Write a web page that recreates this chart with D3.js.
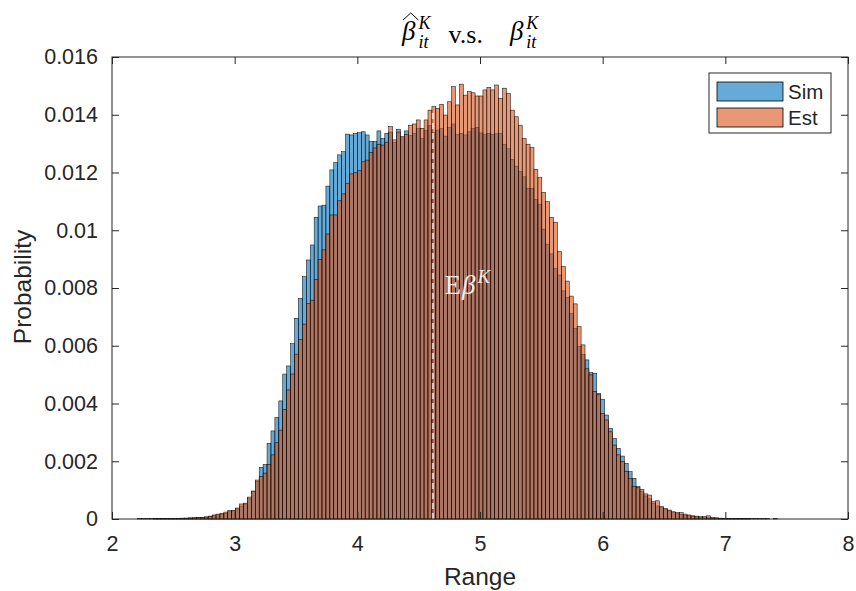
<!DOCTYPE html>
<html>
<head>
<meta charset="utf-8">
<script src="https://cdn.jsdelivr.net/npm/d3@7"></script>
<style>
  body { margin: 0; background: #fff; }
  svg { display: block; }
</style>
</head>
<body>
<div id="chart"></div>
<script>
// histogram bins (probability per bin)
const binStart = 2.208
const binWidth = 0.032

const simProb = [
  0.00001, 0.00001, 0, 0.00001, 0.00001, 0.00001, 0.00002, 0.00001, 0.00002, 0.00002,
  0.00002, 0.00003, 0.00003, 0.00004, 0.00004, 0.00005, 0.00006, 0.00007, 0.00009, 0.00011,
  0.00014, 0.00017, 0.0002, 0.00025, 0.00028, 0.00035, 0.00045, 0.00052, 0.0007, 0.00095,
  0.0013, 0.00179, 0.00189, 0.00262, 0.00305, 0.00351, 0.00409, 0.00502, 0.0053, 0.00607,
  0.00695, 0.00764, 0.00839, 0.00897, 0.00949, 0.01045, 0.01084, 0.01087, 0.01153, 0.01209,
  0.01234, 0.01261, 0.01272, 0.01333, 0.0133, 0.01336, 0.01338, 0.01341, 0.0133, 0.01307,
  0.01307, 0.01344, 0.01318, 0.01336, 0.0134, 0.01305, 0.0135, 0.0132, 0.01344, 0.01328,
  0.01335, 0.01352, 0.01318, 0.01345, 0.01362, 0.01338, 0.01347, 0.01352, 0.01326, 0.01355,
  0.01368, 0.01332, 0.01336, 0.0133, 0.01341, 0.01352, 0.01356, 0.01337, 0.01331, 0.01336,
  0.01332, 0.01334, 0.01336, 0.01298, 0.01282, 0.01245, 0.01222, 0.01203, 0.01185, 0.01145,
  0.01145, 0.01107, 0.0109, 0.01004, 0.00952, 0.00918, 0.00868, 0.00845, 0.0079, 0.00768,
  0.00712, 0.0066, 0.00597, 0.0057, 0.00551, 0.00507, 0.00505, 0.00435, 0.00415, 0.0036,
  0.00314, 0.00279, 0.00245, 0.00218, 0.00193, 0.00164, 0.00141, 0.00112, 0.00095, 0.0008,
  0.0007, 0.00055, 0.00045, 0.0004, 0.00033, 0.00028, 0.00022, 0.00019, 0.00016, 0.00013,
  0.00011, 0.00009, 0.00007, 0.00006, 0.00005, 0.00004, 0.00003, 0.00003, 0.00002, 0.00002,
  0.00002, 0.00001, 0.00001, 0.00001, 0.00001, 0.00001, 0, 0.00001, 0, 0.00001,
  0, 0, 0.00001, 0, 0
]

const estProb = [
  0, 0, 0.00001, 0, 0.00001, 0.00001, 0.00001, 0.00001, 0.00002, 0.00001,
  0.00002, 0.00002, 0.00003, 0.00003, 0.00004, 0.00005, 0.00006, 0.00007, 0.0001, 0.00014,
  0.00017, 0.0002, 0.00024, 0.0003, 0.0003, 0.00038, 0.00052, 0.00055, 0.00076, 0.00097,
  0.00135, 0.00147, 0.00159, 0.00189, 0.00222, 0.00264, 0.00308, 0.0038, 0.00447, 0.00502,
  0.00571, 0.00622, 0.00675, 0.00747, 0.00758, 0.0083, 0.00899, 0.00932, 0.00987, 0.01053,
  0.01053, 0.01102, 0.01126, 0.01163, 0.01195, 0.01199, 0.01206, 0.01237, 0.01243, 0.0127,
  0.01285, 0.01298, 0.01295, 0.01305, 0.01359, 0.01313, 0.0134, 0.01324, 0.01332, 0.01364,
  0.01368, 0.01382, 0.01353, 0.01382, 0.01416, 0.01428, 0.01422, 0.01436, 0.01399, 0.01445,
  0.01497, 0.01434, 0.01506, 0.01468, 0.0148, 0.01476, 0.01465, 0.01465, 0.01486, 0.01495,
  0.01486, 0.01503, 0.01457, 0.01492, 0.01474, 0.01416, 0.01393, 0.01364, 0.01318, 0.01298,
  0.01286, 0.01211, 0.01182, 0.01131, 0.01099, 0.01045, 0.01028, 0.00926, 0.00874, 0.00824,
  0.00772, 0.00745, 0.00666, 0.00603, 0.0052, 0.00499, 0.00441, 0.0043, 0.00366, 0.00343,
  0.00302, 0.00256, 0.00222, 0.00199, 0.00164, 0.00141, 0.00112, 0.00108, 0.00103, 0.00087,
  0.00083, 0.0006, 0.00063, 0.00043, 0.00037, 0.00031, 0.00025, 0.00022, 0.00022, 0.00017,
  0.00014, 0.00011, 0.0001, 0.00008, 0.00008, 0.00011, 0.00006, 0.00004, 0.00003, 0.00002,
  0.00002, 0.00002, 0.00001, 0.00001, 0.00002, 0.00001, 0.00001, 0, 0.00001, 0,
  0.00001, 0, 0, 0, 0
]

const meanValue = 4.616
const meanTop = 0.0142

const xTicks = [2, 3, 4, 5, 6, 7, 8]
const yTicks = [0, 0.002, 0.004, 0.006, 0.008, 0.01, 0.012, 0.014, 0.016]
const yTickLabels = ['0', '0.002', '0.004', '0.006', '0.008', '0.01', '0.012', '0.014', '0.016']
const seriesNames = ['Sim', 'Est']
const seriesColors = ['rgb(0,114,189)', 'rgb(217,83,25)']

const width = 856
const height = 591
const margin = { left: 112, right: 8, top: 57, bottom: 72 }

let svg = d3.select('#chart').append('svg')
    .attr('width', width)
    .attr('height', height)

let x = d3.scaleLinear()
    .domain([2, 8])
    .range([margin.left, width - margin.right])
let y = d3.scaleLinear()
    .domain([0, 0.016])
    .range([height - margin.bottom, margin.top])

const axisColor = '#262626'
const sansFont = '"Liberation Sans", Arial, sans-serif'
const serifFont = '"Liberation Serif", "Times New Roman", serif'

// bars: Sim first, Est on top, both with face alpha 0.6
let seriesData = [simProb, estProb]
seriesData.forEach((probs, s) => {
    let bins = probs.map((p, i) => ({ x0: binStart + i * binWidth, x1: binStart + (i + 1) * binWidth, p }))
    svg.append('g')
        .attr('class', `bars-${seriesNames[s]}`)
        .selectAll('rect')
        .data(bins)
        .enter()
        .append('rect')
            .attr('x', d => x(d.x0))
            .attr('width', d => x(d.x1) - x(d.x0))
            .attr('y', d => y(d.p))
            .attr('height', d => y(0) - y(d.p))
            .attr('fill', seriesColors[s])
            .attr('fill-opacity', 0.6)
            .attr('stroke', '#000')
            .attr('stroke-width', 0.5)
})

// mean line
svg.append('line')
    .attr('x1', x(meanValue))
    .attr('x2', x(meanValue))
    .attr('y1', y(0))
    .attr('y2', y(meanTop))
    .attr('stroke', '#fff')
    .attr('stroke-opacity', 0.7)
    .attr('stroke-width', 2)
    .attr('stroke-dasharray', '6,4')

// E beta^K label
let meanLabel = svg.append('text')
    .attr('x', x(4.71))
    .attr('y', y(0.0078))
    .attr('font-family', serifFont)
    .attr('font-size', 27)
    .attr('fill', '#f2ece8')
meanLabel.append('tspan').text('E')
meanLabel.append('tspan').attr('font-style', 'italic').attr('dx', 1).text('β')
meanLabel.append('tspan').attr('font-style', 'italic').attr('font-size', 19).attr('dx', 2).attr('dy', -11).text('K')

// axes box
let plotW = x(8) - x(2)
let plotH = y(0) - y(0.016)
svg.append('rect')
    .attr('x', x(2))
    .attr('y', y(0.016))
    .attr('width', plotW)
    .attr('height', plotH)
    .attr('fill', 'none')
    .attr('stroke', axisColor)
    .attr('stroke-width', 1)

let tickLen = 7
let xAxis = d3.axisBottom(x).tickValues(xTicks).tickFormat(d3.format('d')).tickSizeInner(-tickLen).tickSizeOuter(0).tickPadding(17)
let xAxisTop = d3.axisTop(x).tickValues(xTicks).tickFormat('').tickSizeInner(-tickLen).tickSizeOuter(0)
let yAxis = d3.axisLeft(y).tickValues(yTicks).tickFormat((d, i) => yTickLabels[i]).tickSizeInner(-tickLen).tickSizeOuter(0).tickPadding(14)
let yAxisRight = d3.axisRight(y).tickValues(yTicks).tickFormat('').tickSizeInner(-tickLen).tickSizeOuter(0)

function styleAxis(g) {
    g.select('.domain').remove()
    g.selectAll('line').attr('stroke', axisColor)
    g.selectAll('text')
        .attr('fill', axisColor)
        .attr('font-family', sansFont)
        .attr('font-size', 21.5)
}

svg.append('g').attr('transform', `translate(0,${y(0)})`).call(xAxis).call(styleAxis)
svg.append('g').attr('transform', `translate(0,${y(0.016)})`).call(xAxisTop).call(styleAxis)
svg.append('g').attr('transform', `translate(${x(2)},0)`).call(yAxis).call(styleAxis)
svg.append('g').attr('transform', `translate(${x(8)},0)`).call(yAxisRight).call(styleAxis)

// axis labels
svg.append('text')
    .attr('x', (x(2) + x(8)) / 2)
    .attr('y', 585)
    .attr('text-anchor', 'middle')
    .attr('font-family', sansFont)
    .attr('font-size', 24.5)
    .attr('fill', axisColor)
    .text('Range')
svg.append('text')
    .attr('transform', `translate(31,${(y(0) + y(0.016)) / 2 - 1}) rotate(-90)`)
    .attr('text-anchor', 'middle')
    .attr('font-family', sansFont)
    .attr('font-size', 24.5)
    .attr('fill', axisColor)
    .text('Probability')

// title: hat-beta_it^K v.s. beta_it^K
let title = svg.append('g').attr('fill', '#000').attr('font-family', serifFont)
let tx = 402
let baseY = 40
function betaTerm(startX, withHat) {
    let b = title.append('text')
        .attr('x', startX)
        .attr('y', baseY)
        .attr('font-size', 27)
        .attr('font-style', 'italic')
        .text('β')
    let bw = b.node().getComputedTextLength()
    if (withHat) {
        title.append('path')
            .attr('d', `M${startX + 1},${baseY - 20} L${startX + bw / 2 + 2},${baseY - 27} L${startX + bw + 3},${baseY - 20}`)
            .attr('fill', 'none')
            .attr('stroke', '#000')
            .attr('stroke-width', 1)
    }
    let sx = startX + bw + 3
    let k = title.append('text')
        .attr('x', sx)
        .attr('y', baseY - 11)
        .attr('font-size', 18)
        .attr('font-style', 'italic')
        .text('K')
    let it = title.append('text')
        .attr('x', sx)
        .attr('y', baseY + 8)
        .attr('font-size', 18)
        .attr('font-style', 'italic')
        .text('it')
    return sx + Math.max(k.node().getComputedTextLength(), it.node().getComputedTextLength())
}
let afterFirst = betaTerm(tx, true)
let vs = title.append('text')
    .attr('x', afterFirst + 18)
    .attr('y', baseY + 3)
    .attr('font-size', 26)
    .text('v.s.')
let vsEnd = afterFirst + 18 + vs.node().getComputedTextLength()
betaTerm(vsEnd + 27, false)

// legend
let legend = svg.append('g')
legend.append('rect')
    .attr('x', 709)
    .attr('y', 73)
    .attr('width', 122)
    .attr('height', 60)
    .attr('fill', '#fff')
    .attr('stroke', axisColor)
    .attr('stroke-width', 1)
seriesNames.forEach((name, i) => {
    legend.append('rect')
        .attr('x', 717)
        .attr('y', 82 + i * 26)
        .attr('width', 66)
        .attr('height', 19)
        .attr('fill', seriesColors[i])
        .attr('fill-opacity', 0.6)
        .attr('stroke', '#000')
        .attr('stroke-width', 0.8)
    legend.append('text')
        .attr('x', 788)
        .attr('y', 99 + i * 26)
        .attr('font-family', sansFont)
        .attr('font-size', 20.5)
        .attr('fill', axisColor)
        .text(name)
})
</script>
</body>
</html>
